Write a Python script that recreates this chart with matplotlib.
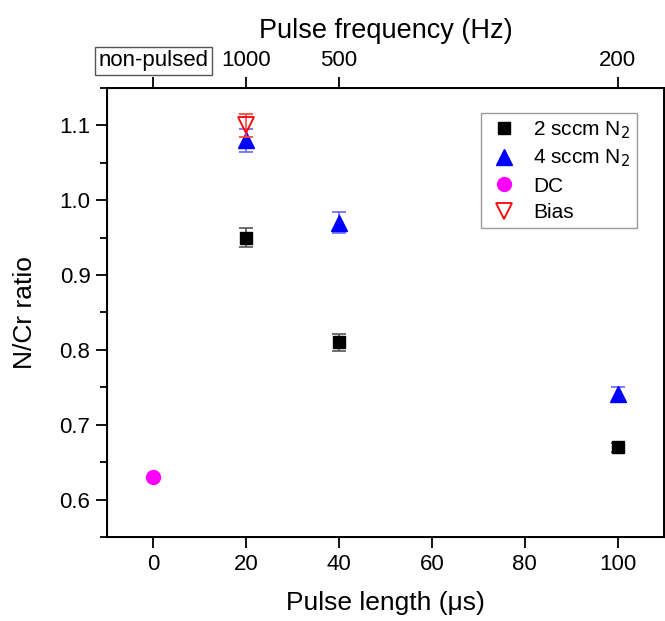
import matplotlib
matplotlib.use("Agg")
import matplotlib.pyplot as plt
from matplotlib.lines import Line2D
from matplotlib.ticker import MultipleLocator

plt.rcParams['font.family'] = ['Liberation Sans', 'DejaVu Sans']

# Data
x2 = [20, 40, 100]
y2 = [0.95, 0.81, 0.67]
e2 = [0.013, 0.011, 0.006]

x4 = [20, 40, 100]
y4 = [1.08, 0.97, 0.741]
e4 = [0.015, 0.014, 0.010]

xdc = [0]
ydc = [0.63]

xb = [20]
yb = [1.10]
eb = [0.015]

bottom_ticks = [0, 20, 40, 60, 80, 100]
top_ticks = [0, 20, 40, 100]
top_labels = ['non-pulsed', '1000', '500', '200']
y_ticks = [0.6, 0.7, 0.8, 0.9, 1.0, 1.1]
series_labels = ['2 sccm N$_2$', '4 sccm N$_2$', 'DC', 'Bias']

fig = plt.figure(figsize=(6.65, 6.21), dpi=100)
ax = fig.add_axes([0.161, 0.1353, 0.8375, 0.723])

ax.errorbar(x2, y2, yerr=e2, fmt='s', color='black', ecolor='#555555', elinewidth=1.2,
            capsize=5, capthick=1.2, markersize=9, zorder=3)
ax.errorbar(x4, y4, yerr=e4, fmt='^', color='#0000ff', ecolor='#6666ff', elinewidth=1.2,
            capsize=5, capthick=1.2, markersize=12, zorder=3)
ax.plot(xdc, ydc, 'o', color='#ff00ff', markersize=10, zorder=3, linestyle='none')
ax.errorbar(xb, yb, yerr=eb, fmt='v', color='#ff0000', mfc='none', ecolor='#ff4444',
            elinewidth=1.2, capsize=5, capthick=1.2, markersize=12, markeredgewidth=1.3,
            zorder=4)

ax.set_xlim(-10, 110)
ax.set_ylim(0.55, 1.15)
ax.set_xticks(bottom_ticks)
ax.set_yticks(y_ticks)
ax.set_yticklabels([f'{v:.1f}' for v in y_ticks])
ax.yaxis.set_minor_locator(MultipleLocator(0.05))
ax.tick_params(axis='both', which='major', direction='out', length=8, width=1.3, labelsize=16, pad=4)
ax.tick_params(axis='y', which='minor', direction='out', length=5, width=1.3)
ax.tick_params(axis='y', which='both', right=False)
for s in ax.spines.values():
    s.set_linewidth(1.4)

ax.set_xlabel('Pulse length (μs)', fontsize=19, labelpad=12)
ax.set_ylabel('N/Cr ratio', fontsize=19, labelpad=16)

ax2 = ax.twiny()
ax2.set_xlim(ax.get_xlim())
ax2.set_xticks(top_ticks)
ax2.set_xticklabels(top_labels)
ax2.tick_params(axis='x', direction='out', length=8, width=1.3, labelsize=16, pad=4)
ax2.set_xlabel('Pulse frequency (Hz)', fontsize=19.5, labelpad=9)
lab0 = ax2.get_xticklabels()[0]
lab0.set_bbox(dict(boxstyle='square,pad=0.15', facecolor='white', edgecolor='#555555', linewidth=1))

handles = [
    Line2D([], [], marker='s', color='black', linestyle='none', markersize=9),
    Line2D([], [], marker='^', color='#0000ff', linestyle='none', markersize=12),
    Line2D([], [], marker='o', color='#ff00ff', linestyle='none', markersize=10),
    Line2D([], [], marker='v', color='#ff0000', mfc='none', markeredgewidth=1.3,
           linestyle='none', markersize=12),
]
leg = ax.legend(handles, series_labels, loc='upper left', bbox_to_anchor=(0.672, 0.945),
                fontsize=15, frameon=True, fancybox=False, edgecolor='#808080',
                handletextpad=0.6, borderpad=0.3, labelspacing=0.35, handlelength=1.6,
                borderaxespad=0)
leg.get_frame().set_linewidth(1)

fig.savefig('out.png', dpi=100)
